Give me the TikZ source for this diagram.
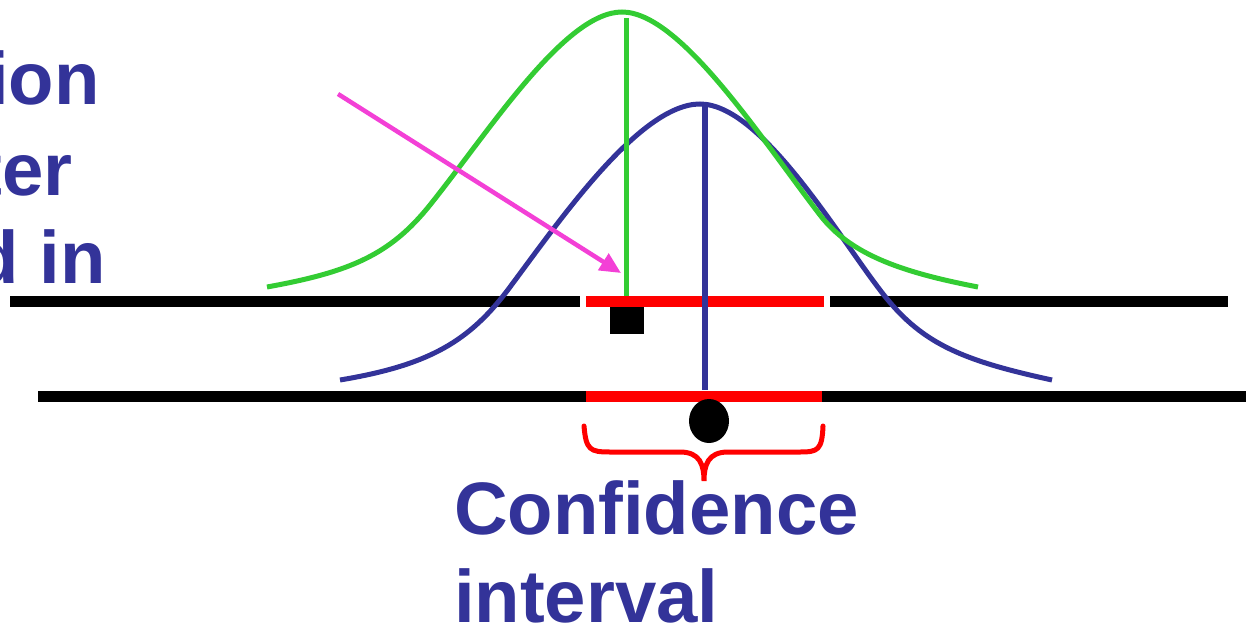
\documentclass[tikz,border=0pt]{standalone}
\usepackage{fontspec}
\setmainfont{Liberation Sans}
\usetikzlibrary{arrows.meta}
\definecolor{navy}{RGB}{51,51,153}
\definecolor{bellgreen}{RGB}{51,204,51}
\definecolor{hotpink}{RGB}{243,64,214}

\begin{document}
\begin{tikzpicture}[x=1cm,y=1cm,line width=.1cm,
  axis/.style={line width=.22cm,black},
  band/.style={line width=.22cm,red},
  lbl/.style={inner sep=0pt,text=navy,font=\fontsize{42.3}{50}\selectfont\bfseries}]
\useasboundingbox (0,0) rectangle (24.92,12.52);
% the two number lines
\draw[axis] (0.20,6.49)--(11.60,6.49);
\draw[axis] (16.60,6.49)--(24.56,6.49);
\draw[band] (11.72,6.49)--(16.48,6.49);
\draw[axis] (0.76,4.60)--(25.00,4.60);
\draw[band] (11.72,4.60)--(16.44,4.60);
% bells
\draw[navy] (6.80,4.92) .. controls (8.60,5.22) and (9.40,5.70) .. (10.20,6.78) .. controls (11.20,8.12) and (12.80,10.44) .. (14.00,10.44) .. controls (15.20,10.44) and (16.70,7.90) .. (17.60,6.72) .. controls (18.40,5.66) and (19.20,5.32) .. (21.04,4.92);
\draw[navy,line width=.12cm] (14.10,10.42)--(14.10,4.72);
\draw[bellgreen] (5.34,6.78) .. controls (7.00,7.08) and (7.80,7.42) .. (8.60,8.42) .. controls (9.80,9.92) and (11.30,12.28) .. (12.44,12.28) .. controls (13.60,12.28) and (15.20,9.78) .. (16.40,8.22) .. controls (17.00,7.44) and (18.00,7.08) .. (19.56,6.78);
\draw[bellgreen] (12.52,12.16)--(12.52,6.60);
% pointer
\coordinate (tail) at (6.76,10.64);
\coordinate (head) at (12.42,7.06);
\draw[hotpink,line width=.09cm,-{Triangle[length=.42cm,width=.38cm]}] (tail)--(head);
% estimates
\fill[black] (12.20,5.84) rectangle (12.88,6.38);
\fill[black] (14.18,4.10) ellipse [x radius=.40,y radius=.44];
% brace
\draw[red,line cap=round] (11.68,4.00) .. controls (11.72,3.52) and (11.80,3.48) .. (12.20,3.48)--(13.60,3.48) .. controls (14.00,3.48) and (14.08,3.22) .. (14.08,2.90) .. controls (14.08,3.22) and (14.16,3.48) .. (14.56,3.48)--(16.00,3.48) .. controls (16.36,3.48) and (16.44,3.52) .. (16.46,4.00);
% labels
\node[lbl,anchor=base east] (l1) at (2.04,10.42) {ion};
\node[lbl,anchor=base east] (l2) at (1.50,8.62) {ter};
\node[lbl,anchor=base east] (l3) at (2.16,6.86) {d in};
\node[lbl,anchor=base west] (conf) at (9.03,1.84) {Confidence};
\node[lbl,anchor=base west] (intv) at (9.03,0.08) {interval};
\end{tikzpicture}
\end{document}
